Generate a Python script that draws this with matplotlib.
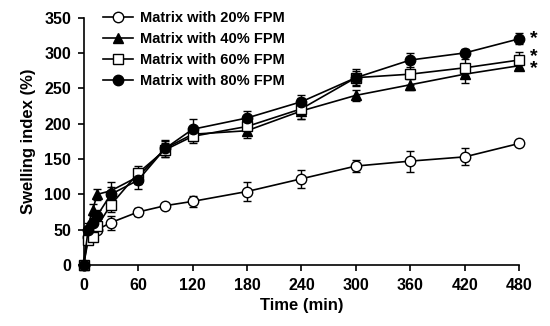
import matplotlib
matplotlib.use("Agg")
import matplotlib.pyplot as plt
from matplotlib.lines import Line2D

plt.rcParams['font.family'] = ['Liberation Sans', 'DejaVu Sans']
plt.rcParams['font.weight'] = 'bold'

time = [0, 5, 10, 15, 30, 60, 90, 120, 180, 240, 300, 360, 420, 480]

fpm20 = [0, 40, 45, 50, 60, 75, 84, 90, 104, 122, 140, 147, 153, 172]
fpm20_err = [0, 4, 4, 5, 10, 5, 4, 8, 13, 13, 8, 15, 12, 4]

fpm40 = [0, 55, 78, 100, 105, 125, 165, 185, 190, 218, 240, 255, 270, 282]
fpm40_err = [0, 5, 8, 8, 12, 10, 10, 10, 10, 12, 8, 8, 12, 5]

fpm60 = [0, 35, 40, 55, 85, 130, 163, 182, 196, 221, 265, 270, 279, 290]
fpm60_err = [0, 5, 5, 8, 10, 10, 10, 10, 10, 15, 10, 15, 12, 12]

fpm80 = [0, 50, 60, 70, 100, 120, 165, 192, 208, 231, 265, 290, 300, 320]
fpm80_err = [0, 5, 6, 8, 10, 12, 12, 15, 10, 10, 12, 10, 5, 8]

labels = ['Matrix with 20% FPM', 'Matrix with 40% FPM',
          'Matrix with 60% FPM', 'Matrix with 80% FPM']
markers = ['o', '^', 's', 'o']
faces = ['white', 'black', 'white', 'black']

fig = plt.figure(figsize=(5.5, 3.26), dpi=100)
ax = fig.add_axes([0.152, 0.187, 0.792, 0.759])

handles = []
for ys, err, lab, m, fc in zip([fpm20, fpm40, fpm60, fpm80],
                               [fpm20_err, fpm40_err, fpm60_err, fpm80_err],
                               labels, markers, faces):
    ms = 7.5 if m != '^' else 7
    ax.errorbar(time, ys, yerr=err, color='black', lw=1.2, marker=m,
                markersize=ms, markerfacecolor=fc,
                markeredgecolor='black', markeredgewidth=1.0,
                ecolor='black', elinewidth=1.0, capsize=3, capthick=1.0,
                clip_on=False, zorder=3)
    handles.append(Line2D([], [], color='black', lw=1.2, marker=m,
                          markersize=ms, markerfacecolor=fc,
                          markeredgecolor='black', markeredgewidth=1.0,
                          label=lab))

# significance asterisks
ax.text(time[-1] + 12, fpm80[-1], '*', fontsize=14, fontweight='bold',
        ha='left', va='center')
ax.text(time[-1] + 12, (fpm60[-1] + fpm40[-1]) / 2 + 1, '*\n*', fontsize=14,
        fontweight='bold', ha='left', va='center', linespacing=0.62)

ax.set_xlim(0, 480)
ax.set_ylim(0, 350)
ax.set_xticks(range(0, 481, 60))
ax.set_yticks(range(0, 351, 50))
for s in ['top', 'right']:
    ax.spines[s].set_visible(False)
for s in ['left', 'bottom']:
    ax.spines[s].set_linewidth(1.2)
ax.tick_params(direction='out', length=4, width=1.2, labelsize=11.5, pad=5)
for t in ax.get_xticklabels() + ax.get_yticklabels():
    t.set_fontweight('bold')
ax.set_xlabel('Time (min)', fontsize=12, fontweight='bold', labelpad=4)
ax.set_ylabel('Swelling index (%)', fontsize=12, fontweight='bold', labelpad=6)

leg = ax.legend(handles=handles, loc='upper left',
                bbox_to_anchor=(0.03, 1.05), frameon=False,
                fontsize=10.5, handlelength=2.1, handletextpad=0.45,
                labelspacing=0.48, borderaxespad=0)
for t in leg.get_texts():
    t.set_fontweight('bold')

fig.savefig('out.png', dpi=100)
